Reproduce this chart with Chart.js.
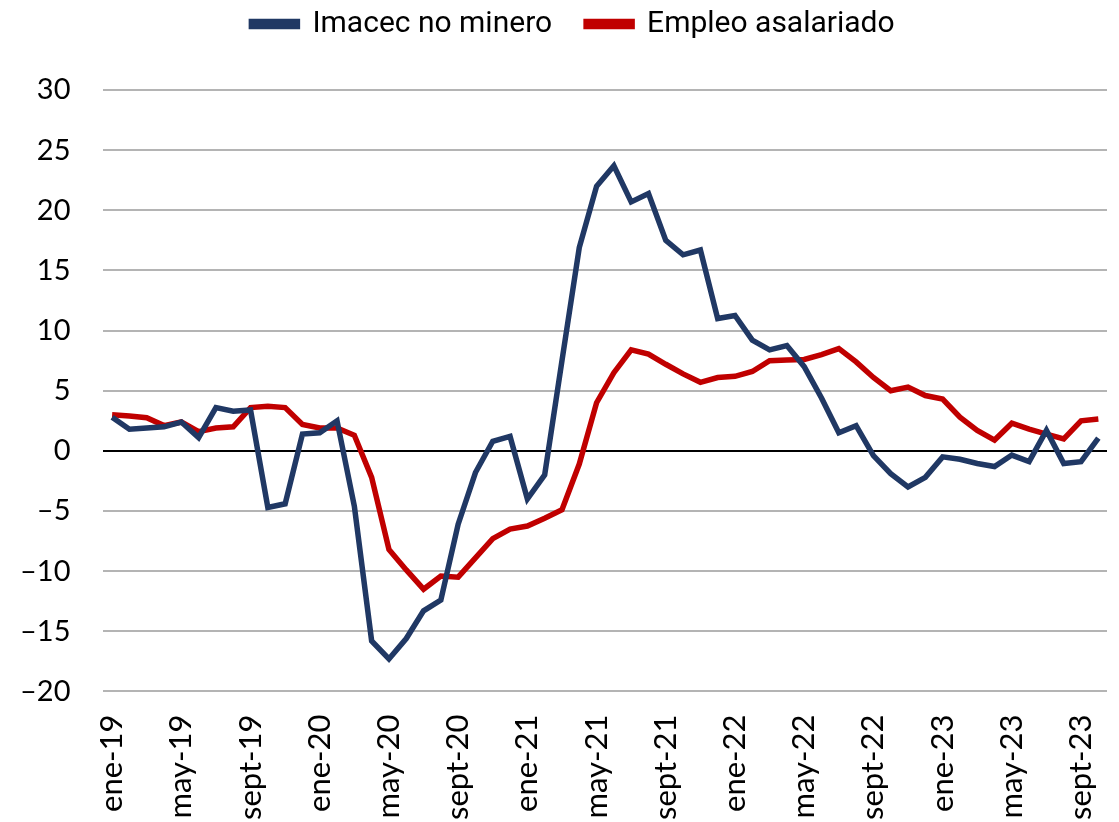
<!DOCTYPE html>
<html>
<head>
<meta charset="utf-8">
<script src="https://cdn.jsdelivr.net/npm/chart.js@4"></script>
<style>
  html, body { margin: 0; padding: 0; background: #fff; }
  #wrap { width: 1119px; height: 822px; }
</style>
</head>
<body>
<div id="wrap"><canvas id="chart" width="1119" height="822"></canvas></div>
<script>
// ---------- Data ---------- //
const months = ['ene', 'feb', 'mar', 'abr', 'may', 'jun', 'jul', 'ago', 'sept', 'oct', 'nov', 'dic'];
const years = ['19', '20', '21', '22', '23'];

// monthly categories, ene-19 .. oct-23
const labels = [];
years.forEach(y => months.forEach(m => labels.push(m + '-' + y)));
labels.length = 58;

const imacecNoMinero = [
  2.8, 1.8, 1.9, 2.0, 2.4, 1.1, 3.6, 3.3, 3.4, -4.7, -4.4, 1.4,
  1.5, 2.5, -4.6, -15.8, -17.3, -15.6, -13.3, -12.4, -6.1, -1.8, 0.8, 1.2,
  -4.0, -2.0, 7.5, 16.9, 22.0, 23.7, 20.7, 21.4, 17.5, 16.3, 16.7, 11.0,
  11.25, 9.2, 8.4, 8.75, 7.0, 4.4, 1.5, 2.1, -0.4, -1.9, -3.0, -2.2,
  -0.5, -0.7, -1.05, -1.3, -0.35, -0.9, 1.7, -1.05, -0.9, 1.05
];

const empleoAsalariado = [
  3.0, 2.9, 2.75, 2.1, 2.4, 1.6, 1.9, 2.0, 3.6, 3.7, 3.6, 2.2,
  1.9, 1.9, 1.3, -2.2, -8.2, -9.9, -11.5, -10.4, -10.5, -8.9, -7.3, -6.5,
  -6.25, -5.6, -4.9, -1.1, 4.0, 6.5, 8.4, 8.05, 7.2, 6.4, 5.7, 6.1,
  6.2, 6.6, 7.5, 7.55, 7.6, 8.0, 8.5, 7.4, 6.1, 5.0, 5.3, 4.6,
  4.3, 2.8, 1.7, 0.9, 2.3, 1.8, 1.4, 1.0, 2.5, 2.65
];

const yMin = -20;
const yMax = 30;
const yStep = 5;

// ---------- Chart ---------- //
const FONT = 'Lato, "Noto Sans", sans-serif';

// extra room under the legend
const legendGap = {
  id: 'legendGap',
  beforeInit(chart) {
    const fit = chart.legend.fit;
    chart.legend.fit = function () {
      fit.bind(chart.legend)();
      this.height += 41;
    };
  }
};

new Chart(document.getElementById('chart').getContext('2d'), {
  type: 'line',
  data: {
    labels: labels,
    datasets: [
      {
        label: 'Imacec no minero',
        data: imacecNoMinero,
        borderColor: '#203864',
        backgroundColor: '#203864',
        borderWidth: 5.5,
        pointRadius: 0,
        tension: 0
      },
      {
        label: 'Empleo asalariado',
        data: empleoAsalariado,
        borderColor: '#c00000',
        backgroundColor: '#c00000',
        borderWidth: 5.5,
        pointRadius: 0,
        tension: 0
      }
    ]
  },
  options: {
    responsive: false,
    animation: false,
    layout: { padding: { left: -13, right: -40, top: -25, bottom: -13 } },
    plugins: {
      legend: {
        position: 'top',
        labels: {
          color: '#000',
          font: { family: 'Roboto, sans-serif', size: 30 },
          boxWidth: 46,
          boxHeight: 5,
          padding: 34
        }
      },
      tooltip: { enabled: false }
    },
    scales: {
      x: {
        offset: true,
        grid: { display: false, drawBorder: false },
        border: { display: false },
        afterFit: scale => { scale.paddingRight = 12; },
        ticks: {
          color: '#000',
          font: { family: FONT, size: 31 },
          autoSkip: false,
          minRotation: 90,
          maxRotation: 90,
          padding: 15,
          callback: (v, i) => (i % 4 === 0 ? labels[i] : '')
        }
      },
      y: {
        min: yMin,
        max: yMax,
        grid: {
          drawTicks: false,
          lineWidth: 2,
          color: ctx => (ctx.tick && ctx.tick.value === 0 ? '#000' : '#b4b4b4')
        },
        border: { display: false },
        ticks: {
          stepSize: yStep,
          color: '#000',
          font: { family: FONT, size: 29 },
          padding: 33,
          callback: v => (v < 0 ? '\u2013' + Math.abs(v) : String(v))
        }
      }
    }
  },
  plugins: [legendGap]
});
</script>
</body>
</html>
